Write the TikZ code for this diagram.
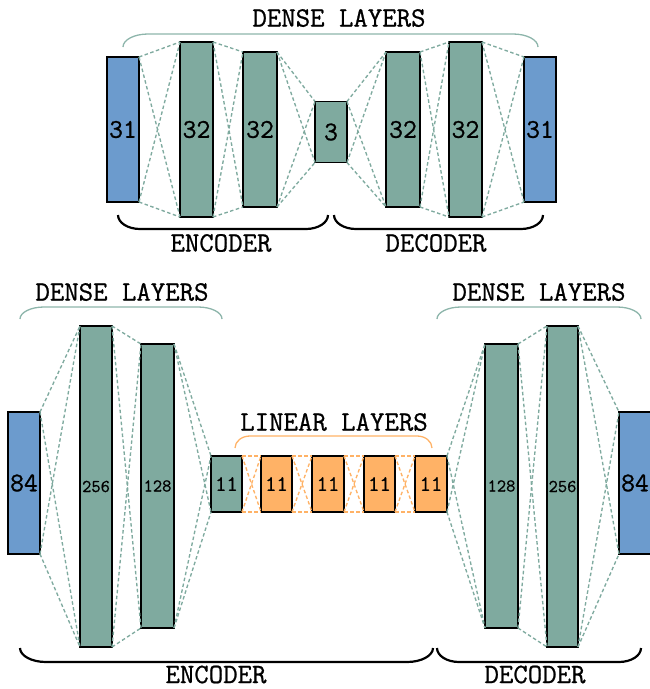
\documentclass[tikz,border=0pt]{standalone}
\usepackage{fontspec}
\newfontfamily\heavytt[FakeBold=0.8]{Latin Modern Mono}
\definecolor{inblue}{HTML}{6C9BCD}
\definecolor{hidteal}{HTML}{7FAA9F}
\definecolor{linorange}{HTML}{FFB266}
\definecolor{capteal}{HTML}{8DB5AB}

\tikzset{
  layer/.style={draw=black, line width=1.2pt, inner sep=0pt, outer sep=0pt},
  inlayer/.style={layer, fill=inblue},
  hidlayer/.style={layer, fill=hidteal},
  linlayer/.style={layer, fill=linorange},
  link/.style={draw=hidteal, dash pattern=on 3.5pt off 2.5pt, line width=1.35pt},
  linlink/.style={link, draw=linorange},
  grpcap/.style={draw=capteal, line width=1.3pt},
  lincap/.style={draw=linorange, line width=1.3pt},
  partcap/.style={draw=black, line width=2.2pt},
  title/.style={font=\heavytt\fontsize{28}{28}\selectfont, inner sep=0pt},
  bignum/.style={font=\heavytt\fontsize{27}{27}\selectfont},
  midnum/.style={font=\heavytt\fontsize{22}{22}\selectfont},
  smallnum/.style={font=\heavytt\fontsize{18}{18}\selectfont},
}

% fully connected link between two layers: corner to corner, crossed
\newcommand{\fclink}[3]{%
  \draw[#1] (#2.north east) -- (#3.north west);
  \draw[#1] (#2.north east) -- (#3.south west);
  \draw[#1] (#2.south east) -- (#3.north west);
  \draw[#1] (#2.south east) -- (#3.south west);
}

% rounded bracket: style, x1, x2, y at ends, y of flat part, corner radius
\newcommand{\capline}[6]{%
  \draw[#1] (#2,#4) .. controls (#2,{#4+0.552*(#5-#4)}) and ({#2+0.448*#6},#5) .. ({#2+#6},#5)
    -- ({#3-#6},#5) .. controls ({#3-0.448*#6},#5) and (#3,{#4+0.552*(#5-#4)}) .. (#3,#4);
}

\begin{document}
\begin{tikzpicture}[x=1pt, y=-1pt]
  \useasboundingbox (0,0) rectangle (649,689);

  % ---------- upper network ----------
  \node[inlayer, bignum, minimum width=32pt, minimum height=145pt] (ua) at (123,129.5) {31};
  \node[hidlayer, bignum, minimum width=33pt, minimum height=175pt] (ub) at (196.5,129.5) {32};
  \node[hidlayer, bignum, minimum width=34pt, minimum height=155pt] (uc) at (260,129.5) {32};
  \node[hidlayer, bignum, minimum width=32pt, minimum height=61pt] (ud) at (331,132) {3};
  \node[hidlayer, bignum, minimum width=34pt, minimum height=155pt] (ue) at (403,129.5) {32};
  \node[hidlayer, bignum, minimum width=33pt, minimum height=175pt] (uf) at (465.5,129.5) {32};
  \node[inlayer, bignum, minimum width=32pt, minimum height=145pt] (ug) at (540,129.5) {31};

  \fclink{link}{ua}{ub}
  \fclink{link}{ub}{uc}
  \fclink{link}{uc}{ud}
  \fclink{link}{ud}{ue}
  \fclink{link}{ue}{uf}
  \fclink{link}{uf}{ug}

  \capline{grpcap}{123}{538}{47}{34}{25}
  \node[title] (utitle) at (339,18) {DENSE LAYERS};
  \capline{partcap}{118}{328}{215}{229}{22}
  \capline{partcap}{334}{543}{215}{229}{22}
  \node[title] (uenc) at (221,243) {ENCODER};
  \node[title] (udec) at (436,243) {DECODER};

  % ---------- lower network ----------
  \node[inlayer, bignum, minimum width=32pt, minimum height=142pt] (la) at (24,483) {84};
  \node[hidlayer, smallnum, minimum width=32pt, minimum height=321pt] (lb) at (96,486.5) {256};
  \node[hidlayer, smallnum, minimum width=33pt, minimum height=284pt] (lc) at (157.5,486) {128};
  \node[hidlayer, midnum, minimum width=31pt, minimum height=56pt] (ld) at (226.5,484) {11};
  \node[linlayer, midnum, minimum width=31pt, minimum height=56pt] (le) at (276.5,484) {11};
  \node[linlayer, midnum, minimum width=32pt, minimum height=56pt] (lf) at (328,484) {11};
  \node[linlayer, midnum, minimum width=31pt, minimum height=56pt] (lg) at (379.5,484) {11};
  \node[linlayer, midnum, minimum width=32pt, minimum height=56pt] (lh) at (431,484) {11};
  \node[hidlayer, smallnum, minimum width=33pt, minimum height=284pt] (li) at (501.5,486) {128};
  \node[hidlayer, smallnum, minimum width=31pt, minimum height=321pt] (lj) at (562.5,486.5) {256};
  \node[inlayer, bignum, minimum width=32pt, minimum height=142pt] (lk) at (635,483) {84};

  \fclink{link}{la}{lb}
  \fclink{link}{lb}{lc}
  \fclink{link}{lc}{ld}
  \fclink{linlink}{ld}{le}
  \fclink{linlink}{le}{lf}
  \fclink{linlink}{lf}{lg}
  \fclink{linlink}{lg}{lh}
  \fclink{link}{lh}{li}
  \fclink{link}{li}{lj}
  \fclink{link}{lj}{lk}

  \capline{grpcap}{20}{222}{319}{307}{24}
  \capline{grpcap}{437}{641}{319}{307}{24}
  \node[title] (ldl) at (122,292) {DENSE LAYERS};
  \node[title] (ldr) at (539,292) {DENSE LAYERS};
  \capline{lincap}{235}{432}{448}{436}{15}
  \node[title] (llin) at (334,422) {LINEAR LAYERS};
  \capline{partcap}{20}{433}{648}{662}{26}
  \capline{partcap}{437}{641}{648}{662}{22}
  \node[title] (lenc) at (216,674.5) {ENCODER};
  \node[title] (ldec) at (535,674.5) {DECODER};
\end{tikzpicture}
\end{document}
